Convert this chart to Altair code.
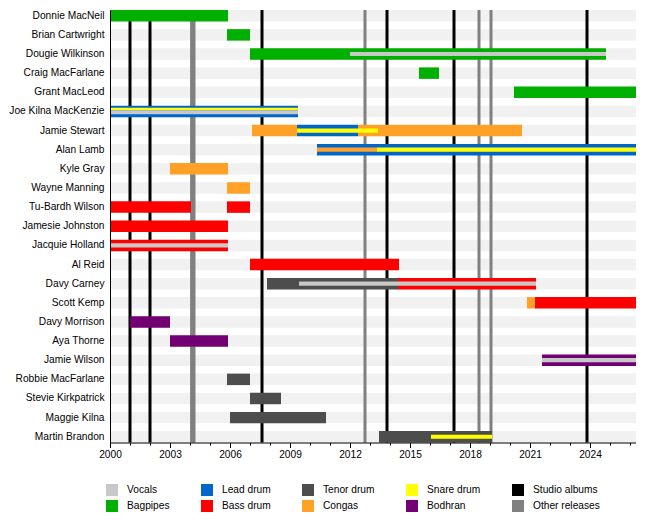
import altair as alt
import pandas as pd

FONT = "Liberation Sans"
FS = 10.2
START = 2000
END = 2026.3

members = [
    "Donnie MacNeil", "Brian Cartwright", "Dougie Wilkinson", "Craig MacFarlane",
    "Grant MacLeod", "Joe Kilna MacKenzie", "Jamie Stewart", "Alan Lamb",
    "Kyle Gray", "Wayne Manning", "Tu-Bardh Wilson", "Jamesie Johnston",
    "Jacquie Holland", "Al Reid", "Davy Carney", "Scott Kemp", "Davy Morrison",
    "Aya Thorne", "Jamie Wilson", "Robbie MacFarlane", "Stevie Kirkpatrick",
    "Maggie Kilna", "Martin Brandon",
]

roles = ["Vocals", "Bagpipes", "Lead drum", "Bass drum", "Tenor drum",
         "Congas", "Snare drum", "Bodhran", "Studio albums", "Other releases"]
role_colors = ["#c8c8c8", "#00b000", "#0066cc", "#ff0000", "#4d4d4d",
               "#ffa126", "#ffff00", "#730073", "#000000", "#808080"]

# main (full-width) bars
bar_member = [
    "Donnie MacNeil", "Brian Cartwright", "Dougie Wilkinson", "Craig MacFarlane",
    "Grant MacLeod", "Joe Kilna MacKenzie", "Jamie Stewart", "Jamie Stewart",
    "Jamie Stewart", "Alan Lamb", "Kyle Gray", "Wayne Manning",
    "Tu-Bardh Wilson", "Tu-Bardh Wilson", "Jamesie Johnston", "Jacquie Holland",
    "Al Reid", "Davy Carney", "Davy Carney", "Scott Kemp", "Scott Kemp",
    "Davy Morrison", "Aya Thorne", "Jamie Wilson", "Robbie MacFarlane",
    "Stevie Kirkpatrick", "Maggie Kilna", "Martin Brandon",
]
bar_role = [
    "Bagpipes", "Bagpipes", "Bagpipes", "Bagpipes",
    "Bagpipes", "Lead drum", "Congas", "Lead drum",
    "Congas", "Lead drum", "Congas", "Congas",
    "Bass drum", "Bass drum", "Bass drum", "Bass drum",
    "Bass drum", "Tenor drum", "Bass drum", "Congas", "Bass drum",
    "Bodhran", "Bodhran", "Bodhran", "Tenor drum",
    "Tenor drum", "Tenor drum", "Tenor drum",
]
bar_start = [
    2000.0, 2005.85, 2007.0, 2015.45,
    2020.2, 2000.0, 2007.1, 2009.35,
    2012.4, 2010.35, 2003.0, 2005.85,
    2000.0, 2005.85, 2000.0, 2000.0,
    2007.0, 2007.85, 2014.4, 2020.85, 2021.25,
    2001.0, 2003.0, 2021.6, 2005.85,
    2007.0, 2006.0, 2013.45,
]
bar_end = [
    2005.9, 2007.0, 2024.8, 2016.45,
    END, 2009.4, 2009.35, 2012.4,
    2020.6, END, 2005.9, 2007.0,
    2004.05, 2007.0, 2005.9, 2005.9,
    2014.45, 2014.4, 2021.3, 2021.25, END,
    2003.0, 2005.9, END, 2007.0,
    2008.55, 2010.8, 2019.1,
]

# secondary roles drawn as thin stripes inside the bars
inner_member = [
    "Dougie Wilkinson", "Joe Kilna MacKenzie", "Joe Kilna MacKenzie",
    "Jamie Stewart", "Alan Lamb", "Alan Lamb", "Jacquie Holland",
    "Davy Carney", "Jamie Wilson", "Martin Brandon",
]
inner_role = [
    "Vocals", "Snare drum", "Vocals",
    "Snare drum", "Congas", "Snare drum", "Vocals",
    "Vocals", "Vocals", "Snare drum",
]
inner_start = [2012.0, 2000.0, 2000.0, 2009.35, 2010.35, 2013.35, 2000.0,
               2009.45, 2021.6, 2016.05]
inner_end = [2024.8, 2009.4, 2009.4, 2013.4, 2013.35, END, 2005.9,
             2021.3, END, 2019.1]
inner_tier = ["mid", "upper", "lower", "mid", "mid", "mid", "mid",
              "mid", "mid", "mid"]

studio_years = [2001.0, 2002.0, 2007.6, 2013.85, 2017.2, 2023.85]
other_years = [2004.08, 2004.2, 2012.75, 2018.45, 2019.05]

bars = pd.DataFrame({"member": bar_member, "role": bar_role,
                     "start": bar_start, "end": bar_end})
inner = pd.DataFrame({"member": inner_member, "role": inner_role,
                      "start": inner_start, "end": inner_end, "tier": inner_tier})
stripes = pd.DataFrame({"member": members, "start": [START] * len(members),
                        "end": [END] * len(members)})
releases = pd.DataFrame({
    "year": studio_years + other_years,
    "role": ["Studio albums"] * len(studio_years) + ["Other releases"] * len(other_years),
})

xscale = alt.Scale(domain=[START, END], nice=False, zero=False)
yscale = alt.Scale(domain=members, paddingInner=0.4, paddingOuter=0)
cscale = alt.Scale(domain=roles, range=role_colors)

x_axis = alt.Axis(
    values=list(range(2000, 2027)), title=None, orient="bottom", grid=False,
    labelExpr="(datum.value - 2000) % 3 == 0 ? format(datum.value, 'd') : ''",
    tickSize={"condition": {"test": "(datum.value - 2000) % 3 == 0", "value": 5},
              "value": 2.5},
    tickColor="black", domainColor="black", labelFont=FONT, labelFontSize=FS,
    labelColor="black", labelPadding=2, labelFlush=False, labelOverlap=False,
    zindex=1)
y_axis = alt.Axis(title=None, ticks=False, domain=True, domainColor="black",
                  labelFont=FONT, labelFontSize=FS, labelColor="black",
                  labelPadding=6, labelLimit=300, zindex=1)
legend = alt.Legend(
    title=None, orient="none", legendX=-4, legendY=474, columns=5,
    symbolType="square", symbolSize=144, symbolStrokeWidth=0,
    symbolOpacity=1, labelFont=FONT, labelFontSize=FS, labelColor="black",
    labelOffset=9, columnPadding=31, rowPadding=4)


def xenc(field):
    return alt.X(field, scale=xscale, axis=x_axis)


def yenc():
    return alt.Y("member:N", sort=members, scale=yscale, axis=y_axis)


def cenc():
    return alt.Color("role:N", scale=cscale, legend=legend)


stripe_layer = alt.Chart(stripes).mark_bar(color="#f1f1f1").encode(
    x=xenc("start:Q"), x2="end:Q", y=yenc(),
)

rule_layer = alt.Chart(releases).mark_rule(strokeWidth=3).encode(
    x=xenc("year:Q"), color=cenc(),
)

bar_layer = alt.Chart(bars).mark_bar().encode(
    x=xenc("start:Q"), x2="end:Q", y=yenc(), color=cenc(),
)


def inner_layer(tier, height, offset):
    return alt.Chart(inner).transform_filter(
        alt.datum.tier == tier
    ).mark_bar(height=height, yOffset=offset).encode(
        x=xenc("start:Q"), x2="end:Q", y=yenc(), color=cenc(),
    )


chart = alt.layer(
    stripe_layer, rule_layer, bar_layer,
    inner_layer("mid", 4.2, 0),
    inner_layer("upper", 2.7, -2.45),
    inner_layer("lower", 4, 0.9),
).properties(
    width=526, height=432.5, background="white",
    padding={"left": 0, "top": 0, "right": 0, "bottom": 0},
).configure_view(stroke=None)

chart.save("out.html", embed_options={"renderer": "svg", "actions": False})
